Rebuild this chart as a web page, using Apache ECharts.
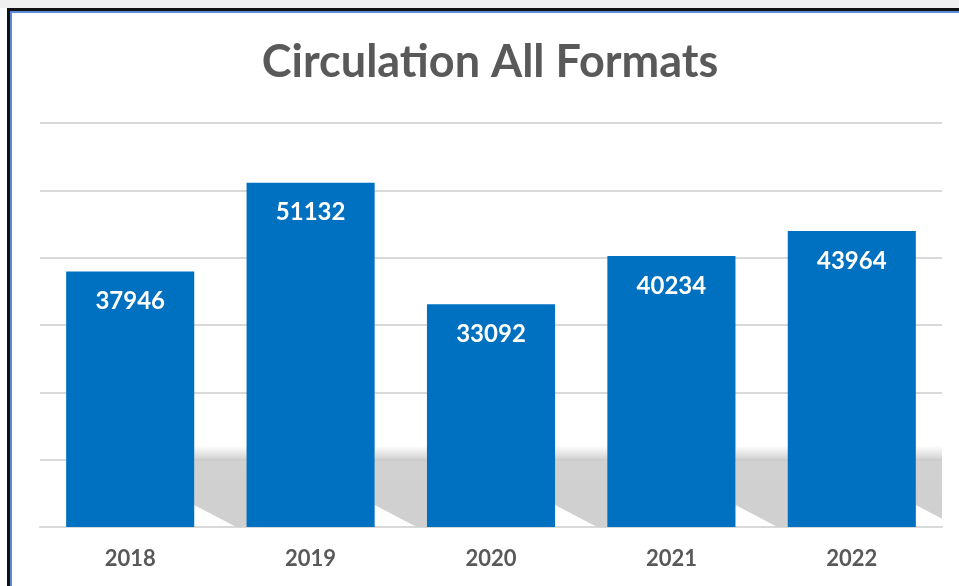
<!DOCTYPE html>
<html>
<head>
<meta charset="utf-8">
<script src="https://cdn.jsdelivr.net/npm/echarts@6/dist/echarts.min.js"></script>
<style>
  html, body { margin: 0; padding: 0; background: #fff; }
  #chart { width: 959px; height: 586px; }
</style>
</head>
<body>
<div id="chart"></div>
<script>
let years = ['2018', '2019', '2020', '2021', '2022'];
let circulation = [37946, 51132, 33092, 40234, 43964];
let shadowLevel = [10000, 10000, 10000, 10000, 10000];

let mychart = echarts.init(document.getElementById('chart'));

// soft floor shadow behind the bars (decoration only)
function renderShadow(params, api) {
  let i = api.value(0);
  let top = api.coord([i, api.value(1)]);
  let bottom = api.coord([i, 0]);
  let band = api.size([1, 0])[0];
  let right = top[0] + band * 0.355;
  let w = band * 0.32;
  let yTop = top[1] - 14;
  let yBot = bottom[1];
  return {
    type: 'polygon',
    shape: {
      points: [
        [right, yTop], [right + w, yTop], [right + w, yBot],
        [right + 42, yBot], [right, yBot - 22]
      ]
    },
    style: {
      fill: {
        type: 'linear', x: 0, y: 0, x2: 0, y2: 1,
        colorStops: [
          { offset: 0, color: 'rgba(208,208,208,0)' },
          { offset: 0.17, color: 'rgba(204,204,204,0.9)' },
          { offset: 1, color: 'rgba(208,208,208,1)' }
        ]
      }
    }
  };
}

mychart.setOption({
  animation: false,
  backgroundColor: '#fff',
  title: {
    text: 'Circulation All Formats',
    left: 485,
    textAlign: 'center',
    top: 35,
    textStyle: {
      fontFamily: 'Lato',
      fontWeight: 'bold',
      fontSize: 45,
      color: '#595959'
    }
  },
  graphic: [
    { type: 'rect', shape: { x: 0, y: 0, width: 959, height: 8 }, style: { fill: '#f0f0f0' } },
    { type: 'rect', shape: { x: 7, y: 8, width: 952, height: 3 }, style: { fill: '#111' } },
    { type: 'rect', shape: { x: 7, y: 8, width: 3, height: 578 }, style: { fill: '#111' } },
    { type: 'rect', shape: { x: 10, y: 11, width: 949, height: 2 }, style: { fill: '#5b8ad8' } },
    { type: 'rect', shape: { x: 10, y: 11, width: 2, height: 575 }, style: { fill: '#5b8ad8' } }
  ],
  grid: {
    left: 40,
    right: 17,
    top: 123,
    bottom: 59
  },
  xAxis: {
    type: 'category',
    data: years,
    axisLine: { show: true, lineStyle: { color: '#d9d9d9', width: 2 } },
    axisTick: { show: false },
    axisLabel: {
      margin: 21,
      fontFamily: 'Lato',
      fontWeight: 'bold',
      fontSize: 22,
      color: '#595959'
    }
  },
  yAxis: {
    type: 'value',
    min: 0,
    max: 60000,
    interval: 10000,
    axisLabel: { show: false },
    axisLine: { show: false },
    axisTick: { show: false },
    splitLine: { lineStyle: { color: '#d9d9d9', width: 2 } }
  },
  series: [
    {
      type: 'custom',
      renderItem: renderShadow,
      data: shadowLevel.map(function (v, i) { return [i, v]; }),
      clip: true,
      z: 1,
      silent: true
    },
    {
      type: 'bar',
      data: circulation,
      barWidth: '71%',
      z: 3,
      itemStyle: { color: '#0070c0' },
      label: {
        show: true,
        position: 'insideTop',
        distance: 18,
        fontFamily: 'Lato',
        fontWeight: 'bold',
        fontSize: 24,
        color: '#fff'
      }
    }
  ]
});
</script>
</body>
</html>
